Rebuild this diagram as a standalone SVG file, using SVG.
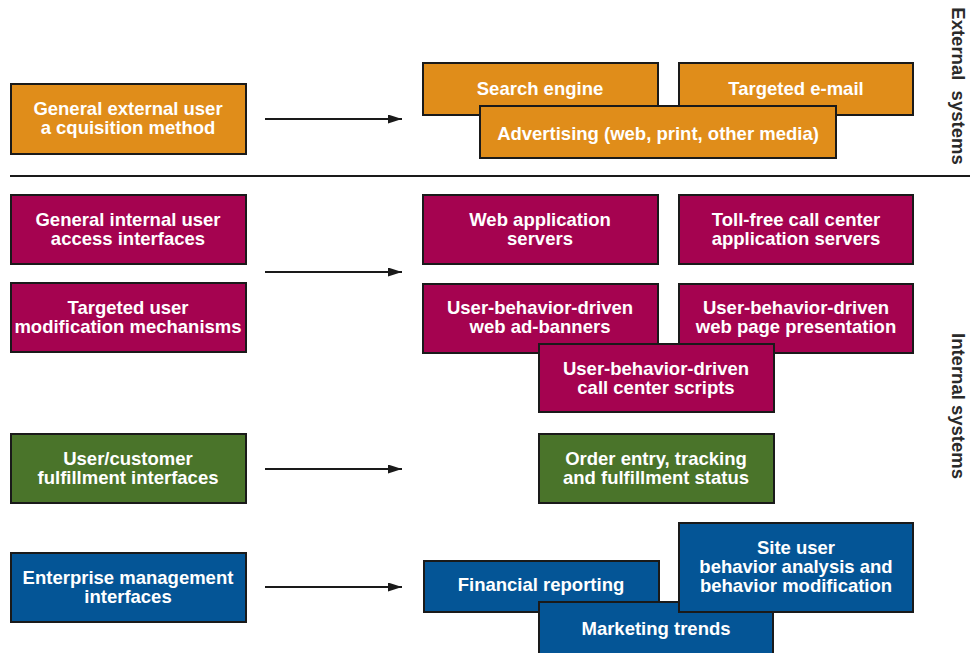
<svg xmlns="http://www.w3.org/2000/svg" width="970" height="653" viewBox="0 0 970 653">
<defs>
<marker id="ah" viewBox="0 0 14 9" refX="14" refY="4.5" markerWidth="14" markerHeight="9" markerUnits="userSpaceOnUse" orient="auto">
<path d="M0,0 L14,4.5 L0,9 Z" fill="#1a1a1a"/>
</marker>
</defs>
<style>
rect{stroke:#1a1a1a;stroke-width:2}
.o{fill:#E08D1A}
.m{fill:#A50350}
.g{fill:#4A742A}
.b{fill:#045596}
text{font-family:"Liberation Sans",Arial,sans-serif;font-weight:bold;font-size:18.5px;fill:#fff;text-anchor:middle}
.side{fill:#2a2a2a;font-size:18.5px;white-space:pre}
.conn line{stroke:#1a1a1a;stroke-width:2;marker-end:url(#ah)}
</style>
<rect width="970" height="653" fill="#fff" style="stroke:none"/>
<line x1="10" y1="176" x2="970" y2="176" stroke="#1a1a1a" stroke-width="2"/>
<text class="side" xml:space="preserve" transform="translate(952,86) rotate(90)">External  systems</text>
<text class="side" transform="translate(952,406) rotate(90)">Internal systems</text>

<g class="conn">
<line x1="265" y1="119" x2="402" y2="119"/>
<line x1="265" y1="272" x2="402" y2="272"/>
<line x1="265" y1="469" x2="402" y2="469"/>
<line x1="265" y1="587" x2="402" y2="587"/>
</g>

<g id="gen-ext"><rect class="o" x="11" y="84" width="235" height="70"/><text x="128" y="115">General external user</text><text x="128" y="134">a cquisition method</text></g>
<g id="search"><rect class="o" x="423" y="63" width="235" height="52"/><text x="540" y="95">Search engine</text></g>
<g id="email"><rect class="o" x="679" y="63" width="234" height="52"/><text x="796" y="95">Targeted e-mail</text></g>
<g id="adv"><rect class="o" x="480" y="106" width="356" height="52"/><text x="658" y="140">Advertising (web, print, other media)</text></g>

<g id="gen-int"><rect class="m" x="11" y="195" width="235" height="69"/><text x="128" y="226">General internal user</text><text x="128" y="245">access interfaces</text></g>
<g id="targeted"><rect class="m" x="11" y="283" width="235" height="69"/><text x="128" y="314">Targeted user</text><text x="128" y="333">modification mechanisms</text></g>
<g id="webapp"><rect class="m" x="423" y="195" width="235" height="69"/><text x="540" y="226">Web application</text><text x="540" y="245">servers</text></g>
<g id="tollfree"><rect class="m" x="679" y="195" width="234" height="69"/><text x="796" y="226">Toll-free call center</text><text x="796" y="245">application servers</text></g>
<g id="adbanners"><rect class="m" x="423" y="284" width="235" height="69"/><text x="540" y="314">User-behavior-driven</text><text x="540" y="333">web ad-banners</text></g>
<g id="webpage"><rect class="m" x="679" y="284" width="234" height="69"/><text x="796" y="314">User-behavior-driven</text><text x="796" y="333">web page presentation</text></g>
<g id="scripts"><rect class="m" x="539" y="344" width="235" height="68"/><text x="656" y="375">User-behavior-driven</text><text x="656" y="394">call center scripts</text></g>

<g id="fulfill"><rect class="g" x="11" y="434" width="235" height="69"/><text x="128" y="465">User/customer</text><text x="128" y="484">fulfillment interfaces</text></g>
<g id="order"><rect class="g" x="539" y="434" width="235" height="69"/><text x="656" y="465">Order entry, tracking</text><text x="656" y="484">and fulfillment status</text></g>

<g id="enterprise"><rect class="b" x="11" y="553" width="235" height="69"/><text x="128" y="584">Enterprise management</text><text x="128" y="603">interfaces</text></g>
<g id="financial"><rect class="b" x="424" y="561" width="235" height="51"/><text x="541" y="591">Financial reporting</text></g>
<g id="marketing"><rect class="b" x="539" y="602" width="234" height="52"/><text x="656" y="635">Marketing trends</text></g>
<g id="siteuser"><rect class="b" x="679" y="523" width="234" height="89"/><text x="796" y="554">Site user</text><text x="796" y="573">behavior analysis and</text><text x="796" y="592">behavior modification</text></g>
</svg>
